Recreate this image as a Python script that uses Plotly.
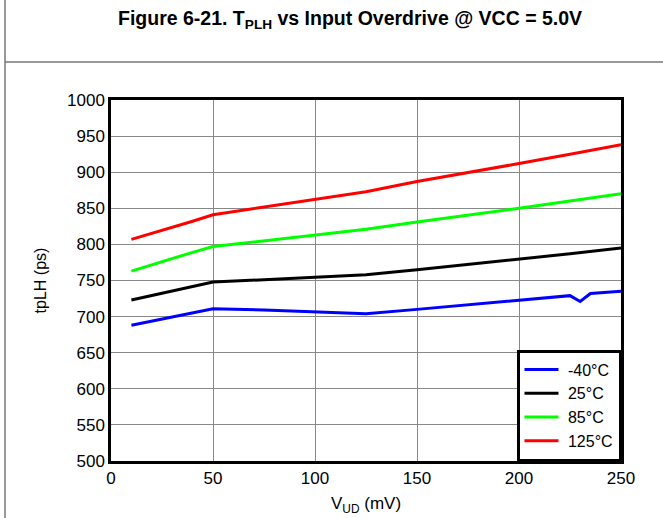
import plotly.graph_objects as go

x_main = [10, 20, 30, 40, 50, 75, 100, 125, 150, 175, 200, 225, 250]
x_blue = [10, 20, 30, 40, 50, 75, 100, 125, 150, 175, 200, 225, 230, 235, 250]

t_m40 = [688, 694, 700, 705, 711, 709, 707, 704, 710, 716, 723, 729, 721, 732, 735]
t_25 = [723, 729, 735, 741, 748, 751, 755, 758, 765, 772, 780, 787, 795]
t_85 = [763, 772, 781, 789, 797, 805, 813, 821, 831, 840, 850, 860, 870]
t_125 = [807, 815, 824, 832, 841, 852, 863, 873, 887, 899, 912, 925, 938]

labels = ["-40°C", "25°C", "85°C", "125°C"]
colors = ["#0000ff", "#000000", "#00ff00", "#ff0000"]

x_ticks = [0, 50, 100, 150, 200, 250]
y_ticks = [500, 550, 600, 650, 700, 750, 800, 850, 900, 950, 1000]

FONT = "Liberation Sans, Arial, sans-serif"
PW, PH = 510, 361  # plot area size in px

fig = go.Figure()
series = [(x_blue, t_m40), (x_main, t_25), (x_main, t_85), (x_main, t_125)]
for (xs, ys), name, c in zip(series, labels, colors):
    fig.add_trace(go.Scatter(x=xs, y=ys, mode="lines", name="&nbsp;" + name,
                             line=dict(color=c, width=3)))

fig.update_layout(
    width=663, height=518,
    margin=dict(l=111, r=42, t=100, b=57),
    paper_bgcolor="white", plot_bgcolor="white",
    font=dict(family=FONT, size=17, color="black"),
    showlegend=True,
    legend=dict(x=1, y=0, xanchor="right", yanchor="bottom",
                bgcolor="white", bordercolor="black", borderwidth=2.5,
                font=dict(size=16), tracegroupgap=0, itemwidth=34),
    shapes=[
        dict(type="line", xref="paper", yref="paper", x0=-106/PW, x1=-106/PW,
             y0=-57/PH, y1=1 + 100/PH, line=dict(color="#777777", width=1.5)),
        dict(type="line", xref="paper", yref="paper", x0=-106/PW, x1=1 + 42/PW,
             y0=1 + 38/PH, y1=1 + 38/PH, line=dict(color="#777777", width=1.5)),
    ],
    annotations=[
        dict(text="<b>Figure 6-21. T<sub>PLH</sub> vs Input Overdrive @ VCC = 5.0V</b>",
             xref="paper", yref="paper", x=(350 - 111) / PW, y=1 + 80/PH,
             xanchor="center", yanchor="middle", showarrow=False,
             font=dict(family=FONT, size=19.5, color="black")),
        dict(text="V<sub>UD</sub> (mV)", xref="paper", yref="paper",
             x=0.5, y=-44/PH, xanchor="center", yanchor="middle",
             showarrow=False, font=dict(family=FONT, size=17, color="black")),
    ],
)

fig.update_xaxes(range=[0, 250], tickvals=x_ticks, showgrid=True,
                 gridcolor="#888888", gridwidth=1, showline=True, linecolor="black",
                 linewidth=2.5, mirror=True, ticks="", zeroline=False,
                 tickfont=dict(size=17), automargin=False)
fig.update_yaxes(range=[500, 1000], tickvals=y_ticks, showgrid=True,
                 gridcolor="#888888", gridwidth=1, showline=True, linecolor="black",
                 linewidth=2.5, mirror=True, ticks="", zeroline=False,
                 tickfont=dict(size=17), automargin=False,
                 title=dict(text="tpLH (ps)", font=dict(size=16), standoff=17))

fig.write_html("out.html", config={"displayModeBar": False},
               post_script="document.body.style.margin='0px';document.body.style.padding='0px';")
